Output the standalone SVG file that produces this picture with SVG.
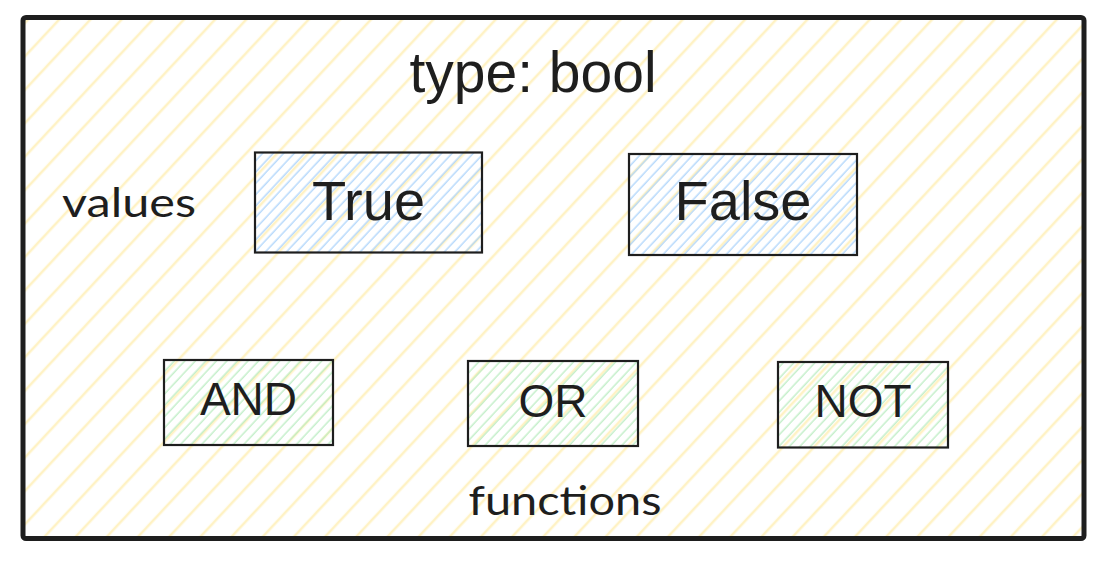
<svg xmlns="http://www.w3.org/2000/svg" width="1100" height="562" viewBox="0 0 1100 562">
  <defs>
    <pattern id="hatchYellow" patternUnits="userSpaceOnUse" width="22.8" height="40" patternTransform="rotate(43)">
      <line x1="11" y1="-5" x2="11" y2="45" stroke="#fff2c4" stroke-width="2.6"/>
    </pattern>
    <pattern id="hatchBlue" patternUnits="userSpaceOnUse" width="7.7" height="40" patternTransform="rotate(43)">
      <line x1="4" y1="-5" x2="4" y2="45" stroke="#a5d0fa" stroke-width="1.2"/>
    </pattern>
    <pattern id="hatchGreen" patternUnits="userSpaceOnUse" width="7.7" height="40" patternTransform="rotate(43)">
      <line x1="4" y1="-5" x2="4" y2="45" stroke="#b6ebbd" stroke-width="1.2"/>
    </pattern>
  </defs>
  <style>
    .frame { fill: url(#hatchYellow); stroke: #1e1e1e; stroke-width: 5; }
    .val { fill: url(#hatchBlue); stroke: #1e1e1e; stroke-width: 2.2; }
    .fn { fill: url(#hatchGreen); stroke: #1e1e1e; stroke-width: 2.2; }
    .lbl { font-family: "Liberation Sans", Arial, sans-serif; fill: #1e1e1e; text-anchor: middle; }
    .cap { font-family: Lato, "Open Sans", sans-serif; fill: #1e1e1e; text-anchor: middle; }
  </style>
  <rect x="0" y="0" width="1100" height="562" fill="#ffffff"/>

  <g id="type-bool">
    <rect class="frame" x="23" y="17.5" width="1061" height="521" rx="3"/>
    <text class="lbl" x="533" y="92" font-size="57">type: bool</text>
  </g>

  <g id="values-label">
    <text class="cap" x="129" y="216.5" font-size="40" textLength="134" lengthAdjust="spacingAndGlyphs">values</text>
  </g>

  <g id="true">
    <rect class="val" x="255" y="152.5" width="227" height="100"/>
    <text class="lbl" x="368.5" y="219.5" font-size="56">True</text>
  </g>

  <g id="false">
    <rect class="val" x="629" y="154" width="228" height="101"/>
    <text class="lbl" x="743" y="220" font-size="56">False</text>
  </g>

  <g id="and">
    <rect class="fn" x="164" y="360" width="169" height="85"/>
    <text class="lbl" x="248.5" y="415" font-size="46">AND</text>
  </g>

  <g id="or">
    <rect class="fn" x="468" y="361" width="170" height="85"/>
    <text class="lbl" x="553" y="416.5" font-size="46">OR</text>
  </g>

  <g id="not">
    <rect class="fn" x="778" y="362" width="170" height="85.5"/>
    <text class="lbl" x="863" y="416.5" font-size="46">NOT</text>
  </g>

  <g id="functions-label">
    <text class="cap" x="565" y="515" font-size="40" textLength="193" lengthAdjust="spacingAndGlyphs">functions</text>
  </g>

  <g id="connectors"></g>
</svg>
